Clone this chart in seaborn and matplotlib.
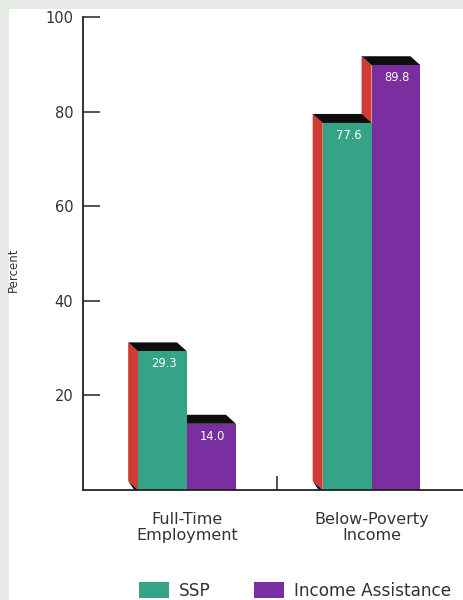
import numpy as np
import pandas as pd
import matplotlib
matplotlib.use("Agg")
import matplotlib.pyplot as plt
import seaborn as sns
from matplotlib.patches import Polygon, Rectangle, Patch

# ---- data ----
categories = ["Full-Time\nEmployment", "Below-Poverty\nIncome"]
programs = ["SSP", "Income Assistance"]
ssp_values = [29.3, 77.6]
ia_values = [14.0, 89.8]
y_ticks = [20, 40, 60, 80, 100]

df = pd.DataFrame({
    "category": categories * 2,
    "program": [programs[0]] * 2 + [programs[1]] * 2,
    "value": ssp_values + ia_values,
})

GREEN = "#35a486"
PURPLE = "#7b2e9f"
RED = "#d03c34"
TOP = "#0d0d0d"
AXC = "#222222"
TXT = "#333333"

sns.set_theme(style="white")
plt.rcParams['font.family'] = ['DejaVu Sans']

fig = plt.figure(figsize=(4.64, 6.0), dpi=100, facecolor="#e5eae5")
fig.patches.append(Rectangle((9 / 464, 0), 1, 591 / 600, transform=fig.transFigure,
                             facecolor="white", edgecolor="none", zorder=-10))
ax = fig.add_axes([83 / 464, 110 / 600, 1 - 83 / 464, 473 / 600])
ax.set_facecolor("none")
ax.set_zorder(1)

sns.barplot(data=df, x="category", y="value", hue="program", order=categories,
            hue_order=programs, palette=[GREEN, PURPLE], width=0.53, saturation=1,
            linewidth=0, ax=ax, legend=False)

ax.set_xlim(-0.564, 1.501)
ax.set_ylim(0, 100)

# 3D depth offset: 10 px left, 9 px up, converted to data units
origin = ax.transData.transform((0, 0))
dx, dy = ax.transData.inverted().transform(origin + np.array([-10.0, 9.0]))

value_sets = [ssp_values, ia_values]
for k, cont in enumerate(ax.containers):
    base_z = 3 - k  # left-hand bars in front of right-hand bars
    for bar, val in zip(cont.patches, value_sets[k]):
        x0 = bar.get_x()
        x1 = x0 + bar.get_width()
        h = bar.get_height()
        bar.set_zorder(base_z + 0.2)
        side = Polygon([(x0, 0), (x0, h), (x0 + dx, h + dy), (x0 + dx, dy)],
                       closed=True, facecolor=RED, edgecolor="none", zorder=base_z)
        top = Polygon([(x0, h), (x1, h), (x1 + dx, h + dy), (x0 + dx, h + dy)],
                      closed=True, facecolor=TOP, edgecolor="none", zorder=base_z + 0.1)
        shadow = Polygon([(x0 + dx, dy), (x0, 0), (x0 + 0.4 * dx, 0)],
                         closed=True, facecolor=TOP, edgecolor="none", zorder=base_z + 0.1)
        ax.add_patch(side)
        ax.add_patch(top)
        ax.add_patch(shadow)
        ax.annotate(f"{val:.1f}", xy=((x0 + x1) / 2, h), xytext=(1, -9),
                    textcoords="offset points", ha="center", va="center",
                    color="white", fontsize=8.3, zorder=base_z + 0.3)

# axes styling
for s in ["top", "right"]:
    ax.spines[s].set_visible(False)
for s in ["left", "bottom"]:
    ax.spines[s].set_color(AXC)
    ax.spines[s].set_linewidth(1.3)
    ax.spines[s].set_zorder(5)

ax.set_yticks(y_ticks)
ax.set_yticklabels([str(t) for t in y_ticks])
ax.tick_params(axis="y", left=True, direction="in", length=12, width=1.1, color=AXC,
               labelsize=10.5, labelcolor=TXT, pad=7)
ax.set_xticks([0, 1])
ax.set_xticklabels(categories, linespacing=1.05)
ax.tick_params(axis="x", which="major", bottom=False, length=0, labelsize=11.5,
               labelcolor=TXT, pad=16)
ax.set_xticks([0.485], minor=True)
ax.tick_params(axis="x", which="minor", bottom=True, direction="in", length=10,
               width=1.1, color=AXC)
ax.set_xlabel("")
ax.set_ylabel("Percent", fontsize=8.5, color=TXT)
ax.yaxis.set_label_coords(-0.165, 0.465)

handles = [Patch(facecolor=GREEN, edgecolor="none"), Patch(facecolor=PURPLE, edgecolor="none")]
fig.legend(handles, programs, loc="upper left", bbox_to_anchor=(139 / 464, 18 / 600),
           ncol=2, frameon=False, fontsize=12.2, handlelength=1.8, handleheight=1.1,
           handletextpad=0.55, columnspacing=2.55, labelcolor=TXT, borderaxespad=0,
           borderpad=0)

fig.savefig("out.png", dpi=100, facecolor=fig.get_facecolor())
